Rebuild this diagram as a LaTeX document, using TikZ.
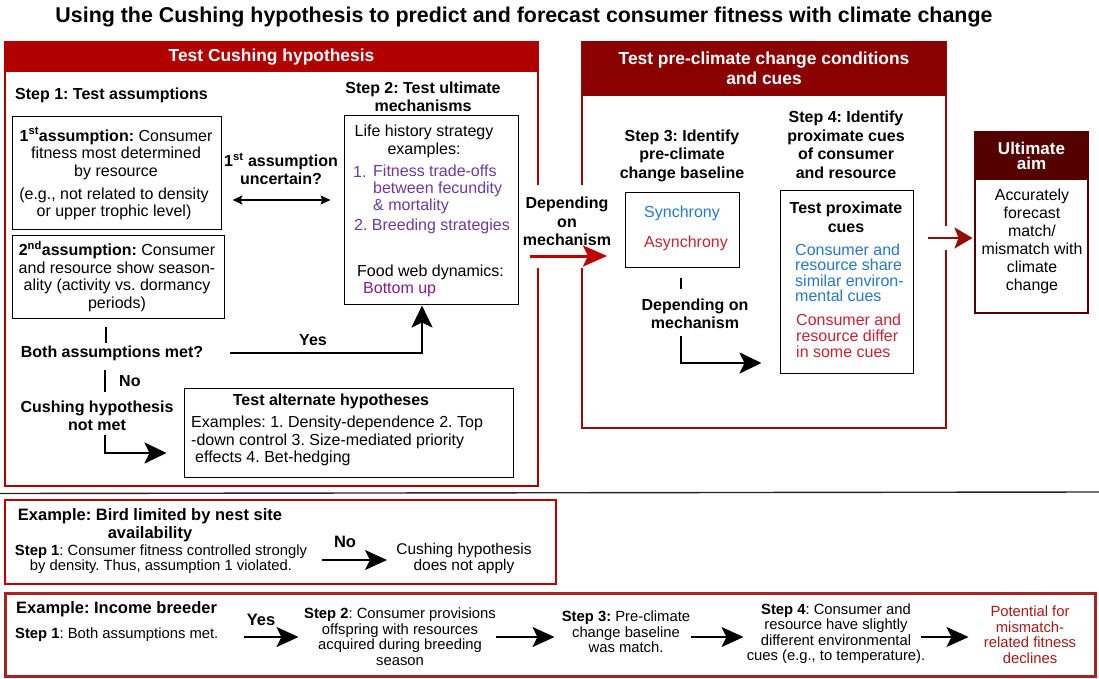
\documentclass[tikz,border=0pt]{standalone}
\usepackage{fontspec}
\setmainfont{Liberation Sans}
\usetikzlibrary{arrows.meta}
\definecolor{cred}{RGB}{178,0,0}
\definecolor{dred}{RGB}{139,0,0}
\definecolor{rborder}{RGB}{150,10,10}
\definecolor{udark}{RGB}{85,0,0}
\definecolor{ered}{RGB}{190,0,0}
\definecolor{etwored}{RGB}{165,35,35}
\definecolor{sblue}{RGB}{38,120,200}
\definecolor{sred}{RGB}{200,35,50}
\definecolor{lpurple}{RGB}{112,56,160}
\definecolor{bpurple}{RGB}{140,25,140}
\definecolor{pred}{RGB}{165,25,25}
\frenchspacing
\begin{document}
\begin{tikzpicture}[x=1pt,y=-1pt,
  every node/.style={inner sep=0pt, align=center},
  body/.style={font=\fontsize{16}{17.5}\selectfont},
  bb/.style={font=\bfseries\fontsize{16}{18.5}\selectfont},
  ex/.style={font=\fontsize{14.8}{15.5}\selectfont},
  exb/.style={font=\bfseries\fontsize{16.5}{18}\selectfont},
  hdr/.style={font=\bfseries\fontsize{17.4}{20}\selectfont, text=white},
  frame/.style={draw=black, line width=1pt},
  blk/.style={line width=2.6pt, -{Stealth[length=22pt,width=21pt,inset=5pt]}},
  blkthin/.style={line width=2pt, -{Stealth[length=22pt,width=20pt,inset=5pt]}},
  dbl/.style={line width=1.4pt, {Stealth[length=10pt,width=9pt,inset=2pt]}-{Stealth[length=10pt,width=9pt,inset=2pt]}},
  redarr/.style={line width=3pt, draw=ered, -{Stealth[length=24pt,width=21pt,inset=5pt]}, color=ered},
  darr/.style={line width=2.2pt, draw=rborder, -{Stealth[length=18pt,width=21pt,inset=4pt]}, color=rborder},
  tick/.style={line width=2pt},
]
\useasboundingbox (0,0) rectangle (1099,679);
\fill[white] (0,0) rectangle (1099,679);

% title
\node[font=\bfseries\fontsize{21.4}{24}\selectfont] (title) at (524,17) {Using the Cushing hypothesis to predict and forecast consumer fitness with climate change};

% ---------- left box ----------
\node[draw=cred, line width=2pt, minimum width=533pt, minimum height=444pt] (lbox) at (271.5,264) {};
\node[fill=cred, minimum width=533pt, minimum height=31pt, anchor=north, hdr] (lhdr) at (lbox.north) {Test Cushing hypothesis};

\node[bb, anchor=west] (s1t) at (15,95) {Step 1: Test assumptions};

\node[frame, minimum width=209pt, minimum height=112pt] (a1) at (116.5,173) {};
\node[body] (a1t) at (116,153.5) {\textbf{1\textsuperscript{st}assumption:} Consumer\\fitness most determined\\by resource};
\node[body] (a1e) at (114,204) {(e.g., not related to density\\or upper trophic level)};

\node[frame, minimum width=212pt, minimum height=83pt] (a2) at (118,276.5) {};
\node[body] (a2t) at (117,276.5) {\textbf{2\textsuperscript{nd}assumption:} Consumer\\and resource show season-\\ality (activity vs. dormancy\\periods)};

\node[bb] (unc) at (281,169) {1\textsuperscript{st} assumption\\uncertain?};

\node[bb] (s2t) at (423,97) {Step 2: Test ultimate\\mechanisms};
\node[frame, minimum width=174pt, minimum height=188pt] (s2) at (431,210) {};
\node[body] (lhs) at (424,141.5) {Life history strategy\\examples:};
\node[body, text=lpurple, anchor=west] (l1n) at (353,172) {1.};
\node[body, text=lpurple, anchor=west, align=left, font=\fontsize{16}{17}\selectfont] (l1) at (373,189) {Fitness trade-offs\\between fecundity\\\& mortality};
\node[body, text=lpurple, anchor=west] (l2) at (354,226) {2. Breeding strategies};
\node[body, anchor=west] (fw) at (357,272) {Food web dynamics:};
\node[body, text=bpurple, anchor=west] (bu) at (363,290) {Bottom up};

\draw[dbl] ([shift={(11,27)}]a1.east) -- ([shift={(-13,-10)}]s2.west);

\draw[tick] ([shift={(-12,8)}]a2.south) -- ++(0,16);
\node[bb] (both) at (112,353) {Both assumptions met?};
\draw[tick] (105,370) -- (105,392);
\node[bb, anchor=west] (no) at (119,381) {No};
\node[bb] (notmet) at (97,416) {Cushing hypothesis\\not met};

\node[frame, minimum width=329pt, minimum height=89pt] (alt) at (348.5,432.5) {};
\node[bb] (altt) at (331,401) {Test alternate hypotheses};
\node[body, align=left, anchor=west, font=\fontsize{16}{17.5}\selectfont] (altb) at (191,441) {Examples: 1. Density-dependence 2. Top\\-down control 3. Size-mediated priority\\\hspace*{4pt}effects 4. Bet-hedging};

\coordinate (nmS) at (105,435);
\draw[blk] (nmS) |- ([shift={(-17,20.5)}]alt.west);

\coordinate (yesS) at (230,353);
\draw[blk] (yesS) -| ([shift={(-9,1)}]s2.south);
\node[bb] (yes) at (313,340) {Yes};

% ---------- right box ----------
\node[draw=rborder, line width=2pt, minimum width=364pt, minimum height=386pt] (rbox) at (764,235) {};
\node[fill=dred, minimum width=364pt, minimum height=55pt, anchor=north, hdr] (rhdr) at (rbox.north) {Test pre-climate change conditions\\and cues};

\node[bb] (s3t) at (682,155.5) {Step 3: Identify\\pre-climate\\change baseline};
\node[frame, minimum width=114pt, minimum height=75pt] (sync) at (682,229.5) {};
\node[body, text=sblue] (syn) at (682,213) {Synchrony};
\node[body, text=sred] (asyn) at (686,243) {Asynchrony};
\draw[tick] ([shift={(-1,10)}]sync.south) -- ++(0,11);
\node[bb] (dep2) at (695,314) {Depending on\\mechanism};

\node[bb] (s4t) at (846,145) {Step 4: Identify\\proximate cues\\of consumer\\and resource};
\node[frame, minimum width=133pt, minimum height=183pt] (s4) at (846.5,281.5) {};
\node[bb] (tpc) at (846,217.5) {Test proximate\\cues};
\node[anchor=west, align=left, text=sblue, font=\fontsize{16}{15.5}\selectfont] (shr) at (795,273) {Consumer and\\resource share\\similar environ-\\mental cues};
\node[anchor=west, align=left, text=sred, font=\fontsize{16}{16}\selectfont] (dif) at (796,335.5) {Consumer and\\resource differ\\in some cues};

\draw[blk] ([shift={(-1,68)}]sync.south) |- ([shift={(-18,81.5)}]s4.west);

% gap between the two boxes
\fill[white] (524,185) rectangle (610,268);
\node[bb] (dep1) at (567,221.5) {Depending\\on\\mechanism};
\draw[redarr] ([shift={(-9,-8)}]lbox.east) -- ([shift={(26,21)}]rbox.west);

% ---------- ultimate aim ----------
\node[draw=udark, line width=2pt, minimum width=113pt, minimum height=181pt] (ult) at (1031.5,222.5) {};
\node[fill=udark, minimum width=113pt, minimum height=49pt, anchor=north, text=white, font=\bfseries\fontsize{17}{15.5}\selectfont] (uhdr) at (ult.north) {Ultimate\\aim};
\node[font=\fontsize{15.9}{18}\selectfont] (ulttxt) at (1032,241) {Accurately\\forecast\\match/\\mismatch with\\climate\\change};
\fill[white] (940,226) rectangle (952,250);
\draw[darr] ([shift={(-19,3)}]rbox.east) -- ([shift={(-1.5,15.5)}]ult.west);

% separator
\coordinate (sepL) at (0,493.5);
\coordinate (sepR) at (1099,492);
\draw[line width=1.4pt, black!85] (sepL) -- (sepR);

% ---------- example 1 ----------
\node[draw=ered, line width=2pt, minimum width=551pt, minimum height=84pt] (ex1) at (280.5,542) {};
\node[exb] (ex1t) at (150,525) {Example: Bird limited by nest site\\availability};
\node[ex] (ex1s) at (161,559) {\textbf{Step 1}: Consumer fitness controlled strongly\\by density. Thus, assumption 1 violated.};
\node[exb] (ex1no) at (345,542) {No};
\node[font=\fontsize{15.5}{16}\selectfont] (ex1c) at (464,558) {Cushing hypothesis\\does not apply};
\draw[blkthin] ([shift={(318,18)}]ex1.west) -- ([shift={(383,18)}]ex1.west);

% ---------- example 2 ----------
\node[draw=etwored, line width=3pt, minimum width=1090pt, minimum height=83pt] (ex2) at (550,634.5) {};
\node[exb, anchor=west] (ex2t) at (16,609) {Example: Income breeder};
\node[ex, anchor=west] (ex2s1) at (15,635) {\textbf{Step 1}: Both assumptions met.};
\node[exb] (ex2yes) at (261,620) {Yes};
\node[ex] (ex2s2) at (400,636.5) {\textbf{Step 2}: Consumer provisions\\offspring with resources\\acquired during breeding\\season};
\node[ex] (ex2s3) at (626,632) {\textbf{Step 3:} Pre-climate\\change baseline\\was match.};
\node[ex] (ex2s4) at (836,633.5) {\textbf{Step 4}: Consumer and\\resource have slightly\\different environmental\\cues (e.g., to temperature).};
\node[ex, text=pred] (ex2p) at (1030,634.5) {Potential for\\mismatch-\\related fitness\\declines};
\draw[blkthin] ([shift={(240,2.5)}]ex2.west) -- ([shift={(295,2.5)}]ex2.west);
\draw[blkthin] ([shift={(492,2.5)}]ex2.west) -- ([shift={(551,2.5)}]ex2.west);
\draw[blkthin] ([shift={(687,2.5)}]ex2.west) -- ([shift={(740,2.5)}]ex2.west);
\draw[blkthin] ([shift={(917,2.5)}]ex2.west) -- ([shift={(965,2.5)}]ex2.west);
\end{tikzpicture}
\end{document}
